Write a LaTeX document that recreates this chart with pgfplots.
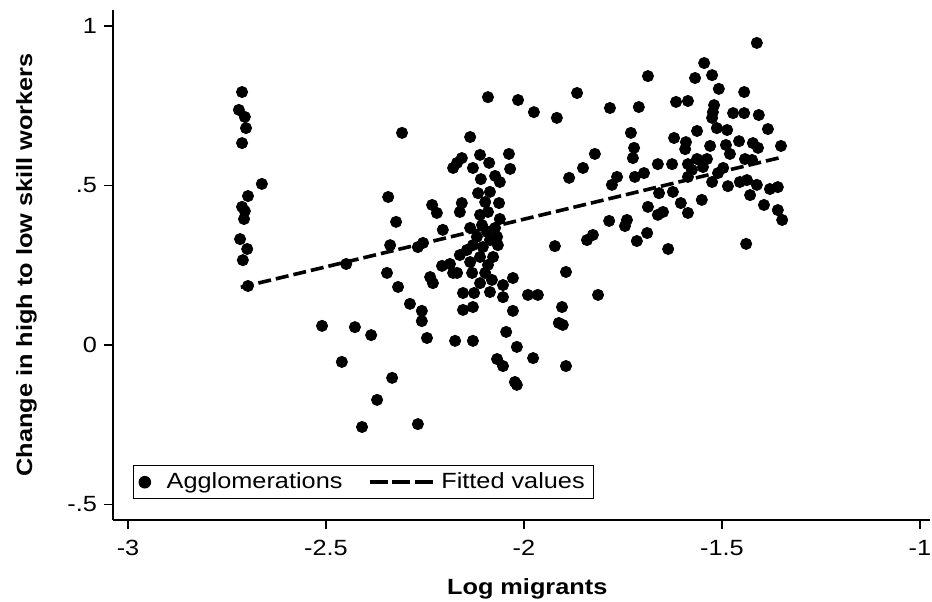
\documentclass[border=0pt]{standalone}
\usepackage{fontspec}
\setmainfont{Liberation Sans}[FakeStretch=1.15]
\usepackage{pgfplots}
\pgfplotsset{compat=1.18}
\begin{document}
\begin{tikzpicture}
\useasboundingbox (-56.5pt,-40.5pt) rectangle (409.5pt,260pt);
\begin{axis}[
  scale only axis, width=408.5pt, height=255pt,
  xmin=-3.0379, xmax=-0.9747, ymin=-0.5486, ymax=1.0502,
  axis lines=left, axis line style={-, line width=0.6pt, black},
  tick align=outside, major tick length=4.5pt, tick style={line width=0.6pt, black},
  xtick={-3,-2.5,-2,-1.5,-1}, xticklabels={-3,-2.5,-2,-1.5,-1},
  ytick={-0.5,0,0.5,1}, yticklabels={-.5,0,.5,1},
  tick label style={font=\fontsize{11}{13}\selectfont},
  xticklabel style={yshift=-2pt},
  every axis x label/.style={at={(axis description cs:0.507,0)}, anchor=base, yshift=-37pt, font=\bfseries\fontsize{11}{13}\selectfont},
  every axis y label/.style={at={(axis description cs:-0.09914,0.5)}, rotate=90, anchor=base, font=\bfseries\fontsize{11}{13}\selectfont},
  xlabel={Log migrants},
  ylabel={Change in high to low skill workers},
  legend columns=2,
  legend style={at={(axis description cs:0.0245,0.0412)}, anchor=south west, draw=black, line width=0.5pt,
    inner xsep=2.5pt, inner ysep=1.4pt, nodes={inner sep=2pt}, font=\fontsize{11}{13}\selectfont,
    /tikz/every even column/.append style={column sep=10.6pt}},
]
\addplot[only marks, mark=*, mark size=2.8pt, mark options={fill=black, draw=black},
  legend image code/.code={\fill[black] (0pt,0pt) circle (2.9pt);}]
table {
x y
-2.712 0.793
-2.720 0.737
-2.705 0.715
-2.702 0.680
-2.712 0.633
-2.662 0.505
-2.697 0.467
-2.712 0.433
-2.705 0.420
-2.707 0.395
-2.717 0.332
-2.699 0.301
-2.710 0.266
-2.697 0.185
-2.449 0.254
-2.343 0.464
-2.323 0.386
-2.338 0.313
-2.346 0.226
-2.318 0.182
-2.288 0.129
-2.510 0.060
-2.427 0.056
-2.386 0.031
-2.460 -0.053
-2.333 -0.103
-2.371 -0.172
-2.409 -0.257
-2.308 0.665
-2.268 -0.248
-2.232 0.439
-2.220 0.414
-2.205 0.361
-2.255 0.320
-2.268 0.307
-2.258 0.107
-2.258 0.075
-2.245 0.022
-2.237 0.213
-2.230 0.194
-2.207 0.248
-2.187 0.254
-2.179 0.226
-2.091 0.777
-2.015 0.768
-1.975 0.730
-1.917 0.712
-1.866 0.790
-1.783 0.743
-2.136 0.652
-2.157 0.586
-2.169 0.571
-2.179 0.555
-2.111 0.596
-2.088 0.571
-2.129 0.555
-2.038 0.599
-2.035 0.552
-2.109 0.520
-2.073 0.530
-2.061 0.511
-1.821 0.599
-1.851 0.555
-1.886 0.524
-1.778 0.502
-1.765 0.527
-2.157 0.445
-2.162 0.417
-2.116 0.476
-2.086 0.480
-2.098 0.448
-2.063 0.445
-2.111 0.408
-2.061 0.395
-2.136 0.367
-2.106 0.376
-2.119 0.339
-2.093 0.354
-2.086 0.329
-2.068 0.339
-2.066 0.313
-2.104 0.307
-2.144 0.298
-2.162 0.282
-2.111 0.276
-2.078 0.276
-2.091 0.251
-2.169 0.226
-2.131 0.226
-2.098 0.226
-2.028 0.210
-2.081 0.204
-2.053 0.188
-2.086 0.166
-2.053 0.150
-2.154 0.163
-2.126 0.163
-2.154 0.110
-2.129 0.119
-1.990 0.157
-1.965 0.157
-2.028 0.107
-2.174 0.013
-2.129 0.013
-2.045 0.041
-2.018 -0.006
-1.977 -0.041
-2.068 -0.044
-2.053 -0.066
-2.023 -0.116
-2.018 -0.125
-2.091 0.417
-2.129 0.313
-2.073 0.367
-2.136 0.260
-2.111 0.194
-1.922 0.310
-1.894 0.229
-1.813 0.157
-1.841 0.329
-1.826 0.345
-1.785 0.389
-1.904 0.119
-1.912 0.069
-1.902 0.063
-1.894 -0.066
-1.412 0.947
-1.545 0.884
-1.525 0.846
-1.568 0.837
-1.687 0.843
-1.508 0.803
-1.444 0.793
-1.710 0.746
-1.616 0.762
-1.586 0.765
-1.520 0.752
-1.523 0.730
-1.525 0.712
-1.472 0.727
-1.444 0.727
-1.407 0.721
-1.513 0.680
-1.487 0.674
-1.563 0.671
-1.730 0.665
-1.621 0.649
-1.591 0.636
-1.593 0.614
-1.530 0.624
-1.490 0.627
-1.457 0.639
-1.422 0.633
-1.409 0.618
-1.384 0.677
-1.351 0.624
-1.480 0.599
-1.442 0.583
-1.424 0.580
-1.722 0.618
-1.725 0.586
-1.662 0.567
-1.626 0.567
-1.586 0.567
-1.563 0.583
-1.538 0.583
-1.548 0.558
-1.576 0.549
-1.497 0.555
-1.510 0.539
-1.720 0.527
-1.697 0.539
-1.586 0.527
-1.525 0.511
-1.485 0.498
-1.455 0.511
-1.437 0.517
-1.412 0.502
-1.429 0.470
-1.624 0.480
-1.659 0.476
-1.551 0.455
-1.687 0.433
-1.662 0.408
-1.649 0.417
-1.604 0.445
-1.586 0.414
-1.740 0.392
-1.745 0.373
-1.689 0.351
-1.715 0.326
-1.636 0.301
-1.439 0.317
-1.379 0.489
-1.359 0.495
-1.394 0.439
-1.359 0.423
-1.348 0.392
};
\addlegendentry{\hspace{5.8pt}Agglomerations}
\addplot[black, line width=1.8pt, dash pattern=on 6.5pt off 2.5pt,
  legend image code/.code={\draw[line width=1.8pt, dash pattern=on 9pt off 2.25pt] (0pt,0pt) -- (31.5pt,0pt);}]
coordinates {(-2.715,0.181) (-1.348,0.589)};
\addlegendentry{\hspace{1.5pt}Fitted values}
\end{axis}
\end{tikzpicture}
\end{document}
